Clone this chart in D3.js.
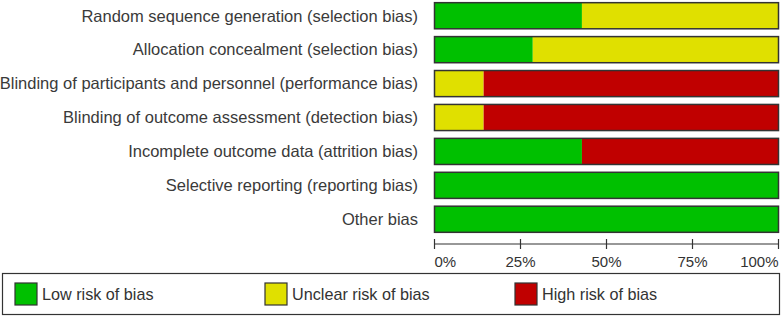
<!DOCTYPE html>
<html>
<head>
<meta charset="utf-8">
<script src="https://cdn.jsdelivr.net/npm/d3@7"></script>
<style>
  html, body { margin: 0; padding: 0; background: #fff; }
  svg { display: block; font-family: "Liberation Sans", Arial, sans-serif; }
</style>
</head>
<body>
<svg id="chart" width="782" height="318"></svg>
<script>
// ---- data: share of 7 studies per domain ----
const domains = [
  'Random sequence generation (selection bias)',
  'Allocation concealment (selection bias)',
  'Blinding of participants and personnel (performance bias)',
  'Blinding of outcome assessment (detection bias)',
  'Incomplete outcome data (attrition bias)',
  'Selective reporting (reporting bias)',
  'Other bias'
];
const lowRisk     = [3, 2, 0, 0, 3, 7, 7];
const unclearRisk = [4, 5, 1, 1, 0, 0, 0];
const highRisk    = [0, 0, 6, 6, 4, 0, 0];
const tickValues  = [0, 25, 50, 75, 100];
const riskKeys    = ['Low risk of bias', 'Unclear risk of bias', 'High risk of bias'];
const riskColors  = ['#00c000', '#e0e000', '#c00000'];

const svg = d3.select('#chart');

const x = d3.scaleLinear().domain([0, 100]).range([434.5, 778.5]);
const y = d3.scaleBand().domain(domains).range([2, 233]).paddingInner(0.23).paddingOuter(0.02);

const rows = domains.map((d, i) => {
  const n = lowRisk[i] + unclearRisk[i] + highRisk[i];
  const vals = [lowRisk[i], unclearRisk[i], highRisk[i]].map(v => v / n * 100);
  let acc = 0;
  const segs = vals.map((v, k) => { const s = { x0: acc, x1: acc + v, k }; acc += v; return s; })
    .filter(s => s.x1 > s.x0);
  return { name: d, segs };
});

// category labels
svg.append('g').selectAll('text').data(domains).enter().append('text')
  .attr('x', 418)
  .attr('y', d => y(d) + y.bandwidth() / 2)
  .attr('dy', '0.35em')
  .attr('text-anchor', 'end')
  .attr('fill', '#3a3a3a')
  .style('font-size', '16.5px')
  .text(d => d);

// bars
const rowG = svg.append('g').selectAll('g').data(rows).enter().append('g')
  .attr('transform', d => `translate(0,${y(d.name)})`);

rowG.selectAll('rect.seg').data(d => d.segs).enter().append('rect')
  .attr('class', 'seg')
  .attr('x', s => x(s.x0))
  .attr('width', s => x(s.x1) - x(s.x0))
  .attr('height', y.bandwidth())
  .attr('fill', s => riskColors[s.k]);

rowG.append('rect')
  .attr('x', x(0))
  .attr('width', x(100) - x(0))
  .attr('height', y.bandwidth())
  .attr('fill', 'none')
  .attr('stroke', '#333')
  .attr('stroke-width', 1.5);

// axis
const axisY = 244;
const axisG = svg.append('g').attr('transform', `translate(0,${axisY})`);
axisG.append('line')
  .attr('x1', x(0)).attr('x2', x(100))
  .attr('stroke', '#333').attr('stroke-width', 1.2);
axisG.selectAll('line.tick').data(tickValues).enter().append('line')
  .attr('class', 'tick')
  .attr('x1', d => x(d)).attr('x2', d => x(d))
  .attr('y1', -5).attr('y2', 5)
  .attr('stroke', '#333').attr('stroke-width', 1.2);
axisG.selectAll('text').data(tickValues).enter().append('text')
  .attr('x', d => x(d))
  .attr('y', 18)
  .attr('dy', '0.35em')
  .attr('text-anchor', (d, i) => i === 0 ? 'start' : (i === tickValues.length - 1 ? 'end' : 'middle'))
  .attr('fill', '#333')
  .style('font-size', '15px')
  .text(d => d + '%');

// legend
const legG = svg.append('g');
legG.append('rect')
  .attr('x', 2.5).attr('y', 273.5)
  .attr('width', 777).attr('height', 41)
  .attr('fill', '#fff').attr('stroke', '#333').attr('stroke-width', 1.2);

const legX = d3.scalePoint().domain(riskKeys).range([15, 515]);
const item = legG.selectAll('g.item').data(riskKeys).enter().append('g')
  .attr('class', 'item')
  .attr('transform', d => `translate(${legX(d)},283)`);
item.append('rect')
  .attr('width', 22).attr('height', 22)
  .attr('fill', (d, i) => riskColors[i])
  .attr('stroke', '#333').attr('stroke-width', 1.2);
item.append('text')
  .attr('x', 27).attr('y', 11).attr('dy', '0.35em')
  .attr('fill', '#333')
  .style('font-size', '16.2px')
  .text(d => d);
</script>
</body>
</html>
